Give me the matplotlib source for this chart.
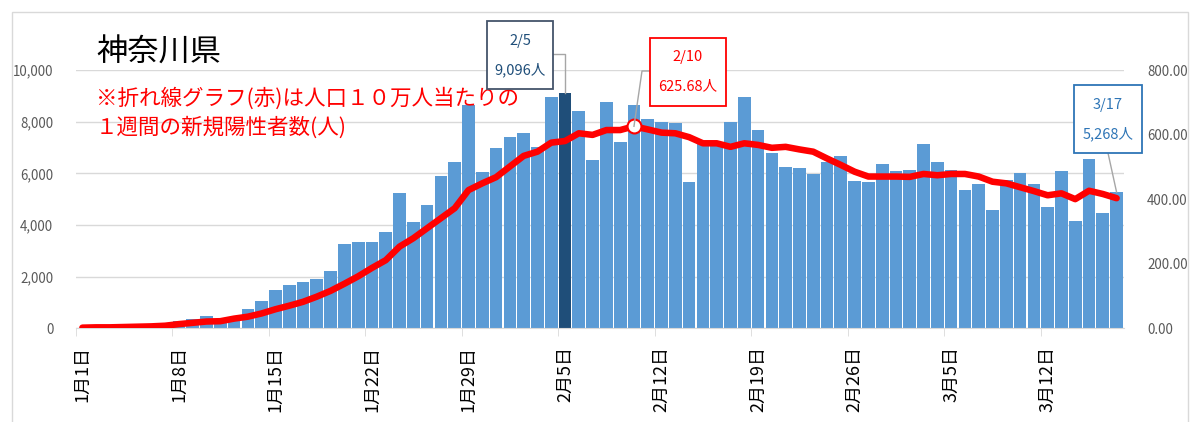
import matplotlib.pyplot as plt
from matplotlib.lines import Line2D
from matplotlib.patches import Rectangle

plt.rcParams['font.family'] = ['Noto Sans CJK JP', 'DejaVu Sans']

# 1/1 〜 3/17 の日別新規陽性者数
days = list(range(76))
cases = [20, 25, 40, 60, 90, 120, 166, 283, 347, 460,
         300, 450, 760, 1057, 1483, 1664, 1780, 1897, 2207, 3264,
         3329, 3329, 3741, 5251, 4103, 4761, 5896, 6426, 8645, 6063,
         6968, 7394, 7561, 7031, 8943, 9096, 8400, 6503, 8761, 7212,
         8645, 8103, 7987, 7936, 5664, 7123, 7097, 7987, 8943, 7677,
         6800, 6257, 6206, 5961, 6426, 6671, 5715, 5664, 6374, 6078,
         6129, 7135, 6426, 6129, 5354, 5587, 4580, 5729, 6012, 5600,
         4709, 6078, 4167, 6555, 4464, 5268]
# 人口10万人当たりの1週間の新規陽性者数
per100k = [2, 3, 3, 4, 5, 6, 8, 13, 17, 21,
           22, 30, 36, 46, 59, 70, 82, 98, 116, 138,
           161, 187, 211, 253, 279, 310, 341, 372, 428, 449,
           468, 501, 534, 547, 575, 580, 604, 599, 614, 614,
           625.68, 616, 606, 604, 592, 573, 573, 562, 573, 568,
           559, 562, 554, 547, 526, 506, 485, 470, 470, 470,
           469, 478, 474, 478, 478, 470, 454, 449, 437, 425,
           412, 418, 400, 426, 416, 403]
tick_days = [0, 7, 14, 21, 28, 35, 42, 49, 56, 63, 70]
tick_labels = ['1月1日', '1月8日', '1月15日', '1月22日', '1月29日', '2月5日',
               '2月12日', '2月19日', '2月26日', '3月5日', '3月12日']
peak_day = 35
line_peak_day = 40
last_day = 75

W, H = 1191, 422
fig = plt.figure(figsize=(W / 100, H / 100), dpi=100)
ax = fig.add_axes([75.5 / W, 1 - 328.3 / H, 1048 / W, 258.3 / H])
ax2 = ax.twinx()

colors = ['#5B9BD5'] * len(days)
colors[peak_day] = '#1F4E79'
ax.bar(days, cases, width=0.92, color=colors, zorder=2)
ax.set_xlim(-0.5, len(days) - 0.5)
ax.set_ylim(0, 10000)
ax.set_yticks(range(0, 10001, 2000))
ax.set_yticklabels([f'{v:,}' for v in range(0, 10001, 2000)])
ax.grid(axis='y', color='#D9D9D9', lw=1, zorder=0)
ax.set_axisbelow(True)
for s in ['top', 'left', 'right']:
    ax.spines[s].set_visible(False)
ax.spines['bottom'].set_color('#D9D9D9')
ax.tick_params(axis='y', length=0, pad=16, labelsize=9.6, labelcolor='#595959')

# ラベルは日の中心、目盛り線は日の境目
ax.set_xticks(tick_days)
ax.set_xticklabels(tick_labels, rotation=90, fontsize=13, color='#000000')
ax.tick_params(axis='x', which='major', length=0, pad=13)
ax.set_xticks([d - 0.5 for d in tick_days], minor=True)
ax.tick_params(axis='x', which='minor', length=6, color='#D9D9D9')

ax2.plot(days, per100k, color='#FF0000', lw=4.7, solid_capstyle='round', zorder=3)
ax2.plot([line_peak_day], [per100k[line_peak_day]], 'o', ms=10, mfc='white',
         mec='#FF0000', mew=1.5, zorder=4)
ax2.set_ylim(0, 800)
ax2.set_yticks(range(0, 801, 200))
ax2.set_yticklabels([f'{v:.2f}' for v in range(0, 801, 200)])
ax2.tick_params(axis='y', length=0, pad=17, labelsize=9.6, labelcolor='#595959')
for s in ax2.spines.values():
    s.set_visible(False)

# 外枠
fig.add_artist(Rectangle((12 / W, -0.1), 1176 / W, 1 - 12 / H + 0.1,
                         transform=fig.transFigure, fill=False,
                         ec='#D9D9D9', lw=1))

fig.text(96 / W, 1 - 53 / H, '神奈川県', fontsize=22.5, va='center', ha='left')
fig.text(96 / W, 1 - 113 / H, '※折れ線グラフ(赤)は人口１０万人当たりの\n１週間の新規陽性者数(人)',
         fontsize=15.5, color='#FF0000', va='center', ha='left', linespacing=1.4)


def fx(x):
    return x / W


def fy(y):
    return 1 - y / H


def to_fig(axis, x, y):
    return (axis.transData + fig.transFigure.inverted()).transform((x, y))


def callout(box, lines, tcolor, ecolor, path, target):
    x0, y0, x1, y1 = box
    fig.add_artist(Rectangle((fx(x0), fy(y1)), fx(x1 - x0), (y1 - y0) / H,
                             transform=fig.transFigure, fc='white', ec=ecolor,
                             lw=1.3, zorder=5))
    cy = (y0 + y1) / 2
    fig.text(fx((x0 + x1) / 2), fy(cy - 14.5), lines[0], ha='center', va='center',
             fontsize=10.5, color=tcolor, zorder=6)
    fig.text(fx((x0 + x1) / 2), fy(cy + 14.5), lines[1], ha='center', va='center',
             fontsize=10.5, color=tcolor, zorder=6)
    xs = [fx(p[0]) for p in path] + [target[0]]
    ys = [fy(p[1]) for p in path] + [target[1]]
    fig.add_artist(Line2D(xs, ys, transform=fig.transFigure, color='#A6A6A6',
                          lw=1, zorder=4))


t1 = to_fig(ax, peak_day, cases[peak_day])
callout((487, 21, 553, 89), ['2/5', f'{cases[peak_day]:,}人'], '#1F4E79', '#44546A',
        [(553, 54), (t1[0] * W, 54)], t1)
t2 = to_fig(ax2, line_peak_day, per100k[line_peak_day])
callout((650, 38, 726, 106), ['2/10', f'{per100k[line_peak_day]:.2f}人'], '#FF0000', '#FF0000',
        [(650, 71), (642, 71)], t2)
t3 = to_fig(ax, last_day, cases[last_day])
callout((1074, 85, 1142, 153), ['3/17', f'{cases[last_day]:,}人'], '#2E75B6', '#2E75B6',
        [(1108, 153)], t3)

fig.savefig('out.png', dpi=100)
